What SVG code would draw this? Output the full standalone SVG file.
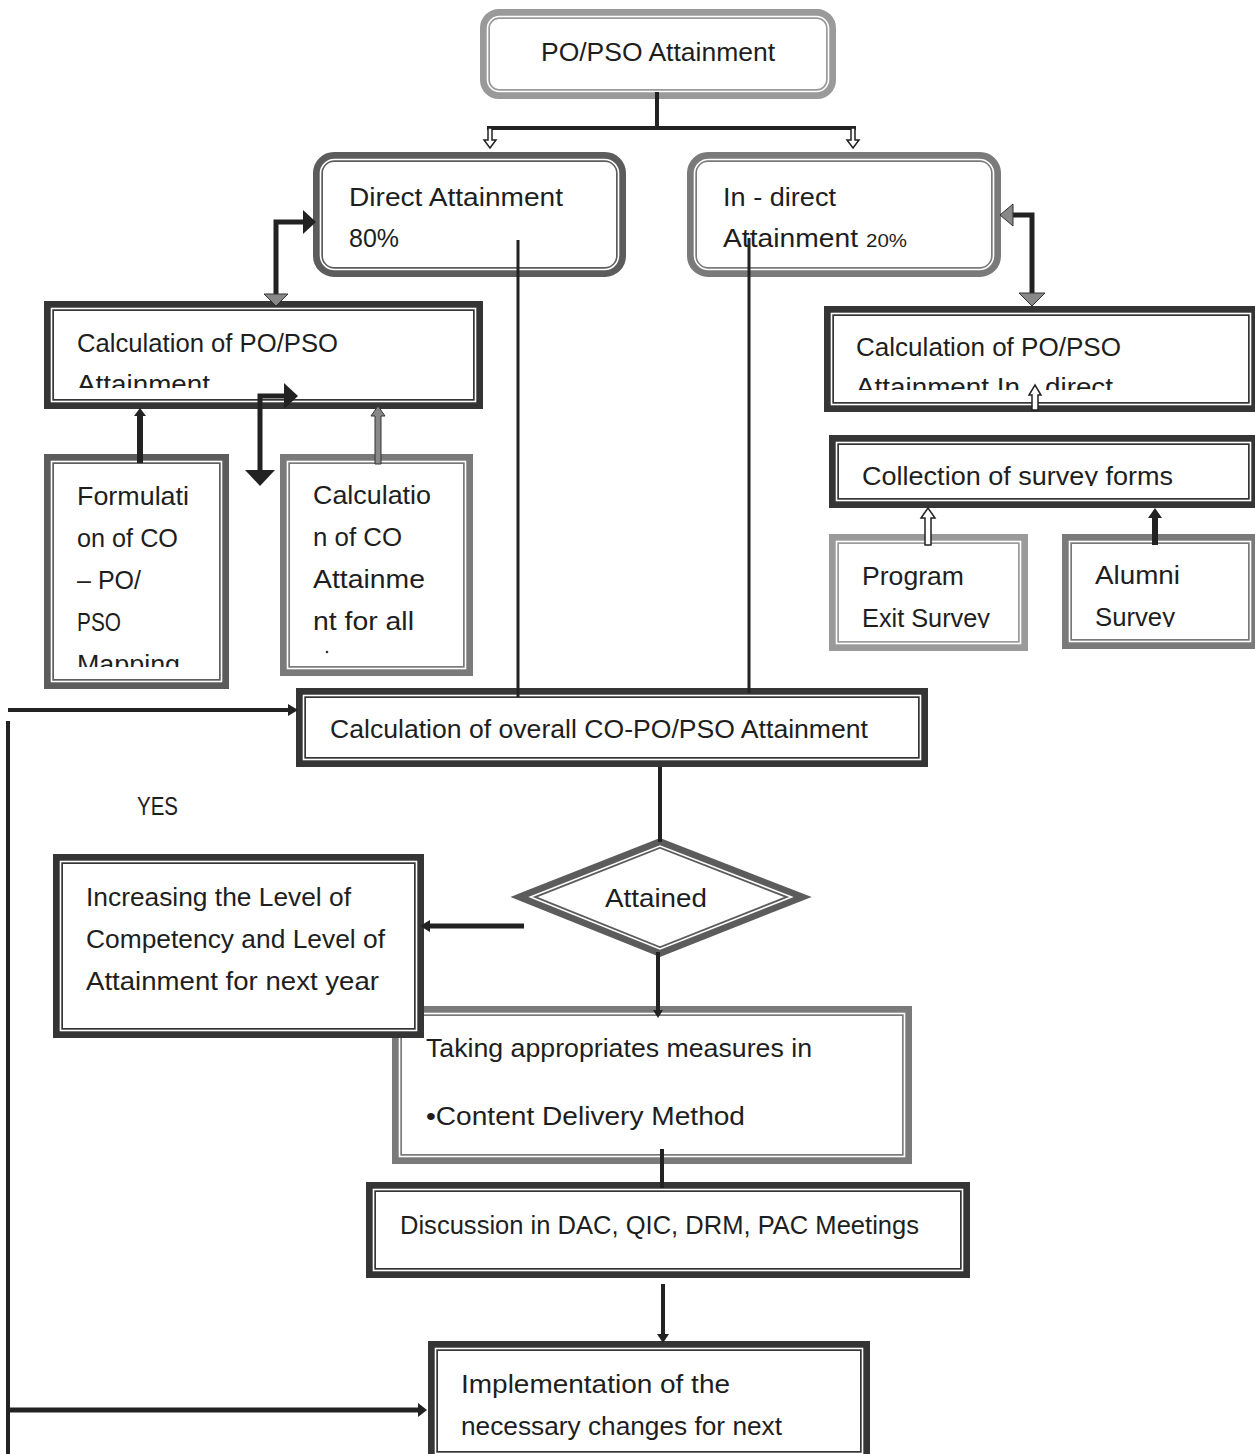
<svg xmlns="http://www.w3.org/2000/svg" width="1255" height="1454" viewBox="0 0 1255 1454">
<style>
.t{font-family:"Liberation Sans",Arial,sans-serif;font-size:25px;fill:#1e1e1e;}
.s{font-size:19px;}
.band{fill:#fff;stroke-width:10;}
.wl{fill:none;stroke:#fff;stroke-width:1.6;}
.g1{stroke:#9a9a9a;}
.g2{stroke:#7a7a7a;}
.g3{stroke:#5c5c5c;}
.g4{stroke:#353535;}
.ln{fill:none;stroke:#222;}
.hd{fill:#222;}
.hg{fill:#888;stroke:#333;stroke-width:1;}
.hh{fill:#fff;stroke:#222;stroke-width:1.5;}
</style>
<defs>
<clipPath id="cpCalcL"><rect x="44" y="301" width="439" height="87"/></clipPath>
<clipPath id="cpCalcR"><rect x="824" y="306" width="434" height="84"/></clipPath>
<clipPath id="cpColl"><rect x="829" y="435" width="429" height="51"/></clipPath>
<clipPath id="cpProg"><rect x="829" y="534" width="199" height="94"/></clipPath>
<clipPath id="cpAlum"><rect x="1062" y="534" width="196" height="93"/></clipPath>
<clipPath id="cpForm"><rect x="44" y="454" width="185" height="213"/></clipPath>
</defs>
<rect width="1255" height="1454" fill="#fff"/>

<g id="n-top">
<rect class="band g1" x="485" y="14" width="346" height="80" rx="14"/>
<rect class="wl" x="487.5" y="16.5" width="341" height="75" rx="12"/>
<text class="t" x="541" y="61" textLength="234" lengthAdjust="spacingAndGlyphs">PO/PSO Attainment</text>
</g>

<g id="n-direct">
<rect class="band g3" x="318" y="157" width="303" height="115" rx="16"/>
<rect class="wl" x="320.5" y="159.5" width="298" height="110" rx="14"/>
<text class="t" x="349" y="206" textLength="214" lengthAdjust="spacingAndGlyphs">Direct Attainment</text>
<text class="t" x="349" y="247" textLength="50" lengthAdjust="spacingAndGlyphs">80%</text>
</g>

<g id="n-indirect">
<rect class="band g2" x="692" y="157" width="304" height="115" rx="16"/>
<rect class="wl" x="694.5" y="159.5" width="299" height="110" rx="14"/>
<text class="t" x="723" y="206" textLength="113" lengthAdjust="spacingAndGlyphs">In - direct</text>
<text class="t" x="723" y="247" textLength="135" lengthAdjust="spacingAndGlyphs">Attainment</text>
<text class="t s" x="866" y="247" textLength="41" lengthAdjust="spacingAndGlyphs">20%</text>
</g>

<g id="n-calc-left">
<rect class="band g4" x="49" y="306" width="429" height="98"/>
<rect class="wl" x="51.5" y="308.5" width="424" height="93"/>
<text class="t" x="77" y="352" textLength="261" lengthAdjust="spacingAndGlyphs">Calculation of PO/PSO</text>
<text class="t" x="77" y="393" textLength="133" lengthAdjust="spacingAndGlyphs" clip-path="url(#cpCalcL)">Attainment</text>
</g>

<g id="n-calc-right">
<rect class="band g4" x="829" y="311" width="424" height="96"/>
<rect class="wl" x="831.5" y="313.5" width="419" height="91"/>
<text class="t" x="856" y="356" textLength="265" lengthAdjust="spacingAndGlyphs">Calculation of PO/PSO</text>
<g clip-path="url(#cpCalcR)">
<text class="t" x="856" y="396" textLength="164" lengthAdjust="spacingAndGlyphs">Attainment In</text>
<text class="t" x="1045" y="396" textLength="68" lengthAdjust="spacingAndGlyphs">direct</text>
</g>
</g>

<g id="n-collection">
<rect class="band g4" x="834" y="440" width="419" height="63"/>
<rect class="wl" x="836.5" y="442.5" width="414" height="58"/>
<text class="t" x="862" y="485" textLength="311" lengthAdjust="spacingAndGlyphs" clip-path="url(#cpColl)">Collection of survey forms</text>
</g>

<g id="n-program">
<rect class="band g1" x="834" y="539" width="189" height="107"/>
<rect class="wl" x="836.5" y="541.5" width="184" height="102"/>
<g clip-path="url(#cpProg)">
<text class="t" x="862" y="585" textLength="102" lengthAdjust="spacingAndGlyphs">Program</text>
<text class="t" x="862" y="627" textLength="128" lengthAdjust="spacingAndGlyphs">Exit Survey</text>
</g>
</g>

<g id="n-alumni">
<rect class="band g2" x="1067" y="539" width="186" height="105"/>
<rect class="wl" x="1069.5" y="541.5" width="181" height="100"/>
<g clip-path="url(#cpAlum)">
<text class="t" x="1095" y="584" textLength="85" lengthAdjust="spacingAndGlyphs">Alumni</text>
<text class="t" x="1095" y="626" textLength="80" lengthAdjust="spacingAndGlyphs">Survey</text>
</g>
</g>

<g id="n-formulation">
<rect class="band g3" x="49" y="459" width="175" height="225"/>
<rect class="wl" x="51.5" y="461.5" width="170" height="220"/>
<g clip-path="url(#cpForm)">
<text class="t" x="77" y="505" textLength="112" lengthAdjust="spacingAndGlyphs">Formulati</text>
<text class="t" x="77" y="547" textLength="101" lengthAdjust="spacingAndGlyphs">on of CO</text>
<text class="t" x="77" y="589" textLength="64" lengthAdjust="spacingAndGlyphs">– PO/</text>
<text class="t" x="77" y="631" textLength="44" lengthAdjust="spacingAndGlyphs">PSO</text>
<text class="t" x="77" y="673" textLength="103" lengthAdjust="spacingAndGlyphs">Mapping</text>
</g>
</g>

<g id="n-calc-co">
<rect class="band g2" x="285" y="459" width="183" height="212"/>
<rect class="wl" x="287.5" y="461.5" width="178" height="207"/>
<text class="t" x="313" y="504" textLength="118" lengthAdjust="spacingAndGlyphs">Calculatio</text>
<text class="t" x="313" y="546" textLength="89" lengthAdjust="spacingAndGlyphs">n of CO</text>
<text class="t" x="313" y="588" textLength="112" lengthAdjust="spacingAndGlyphs">Attainme</text>
<text class="t" x="313" y="630" textLength="101" lengthAdjust="spacingAndGlyphs">nt for all</text>
<circle cx="327" cy="652" r="1.3" fill="#333"/>
</g>

<g id="n-overall">
<rect class="band g4" x="301" y="693" width="622" height="69"/>
<rect class="wl" x="303.5" y="695.5" width="617" height="64"/>
<text class="t" x="330" y="738" textLength="538" lengthAdjust="spacingAndGlyphs">Calculation of overall CO-PO/PSO Attainment</text>
</g>

<g id="l-yes">
<text class="t" x="137" y="815" font-size="23" textLength="41" lengthAdjust="spacingAndGlyphs">YES</text>
</g>

<g id="n-attained">
<polygon class="band g3" points="524,897 660,843.4 798,897 660,951.6"/>
<polygon class="wl" points="530.5,897 660,846 791.5,897 660,949"/>
<text class="t" x="605" y="907" textLength="102" lengthAdjust="spacingAndGlyphs">Attained</text>
</g>

<g id="n-taking">
<rect class="band g2" x="397" y="1011" width="510" height="148"/>
<rect class="wl" x="399.5" y="1013.5" width="505" height="143"/>
<text class="t" x="426" y="1057" textLength="386" lengthAdjust="spacingAndGlyphs">Taking appropriates measures in</text>
<text class="t" x="426" y="1125" textLength="319" lengthAdjust="spacingAndGlyphs">•Content Delivery Method</text>
</g>

<g id="n-increasing">
<rect class="band g4" x="58" y="859" width="361" height="174"/>
<rect class="wl" x="60.5" y="861.5" width="356" height="169"/>
<text class="t" x="86" y="906" textLength="265" lengthAdjust="spacingAndGlyphs">Increasing the Level of</text>
<text class="t" x="86" y="948" textLength="299" lengthAdjust="spacingAndGlyphs">Competency and Level of</text>
<text class="t" x="86" y="990" textLength="293" lengthAdjust="spacingAndGlyphs">Attainment for next year</text>
</g>

<g id="n-discussion">
<rect class="band g4" x="371" y="1187" width="594" height="86"/>
<rect class="wl" x="373.5" y="1189.5" width="589" height="81"/>
<text class="t" x="400" y="1234" textLength="519" lengthAdjust="spacingAndGlyphs">Discussion in DAC, QIC, DRM, PAC Meetings</text>
</g>

<g id="n-implementation">
<rect class="band g4" x="433" y="1346" width="432" height="110"/>
<rect class="wl" x="435.5" y="1348.5" width="427" height="105"/>
<text class="t" x="461" y="1393" textLength="269" lengthAdjust="spacingAndGlyphs">Implementation of the</text>
<text class="t" x="461" y="1435" textLength="321" lengthAdjust="spacingAndGlyphs">necessary changes for next</text>
</g>

<g id="connectors">
<path class="ln" stroke-width="4" d="M657 92 V128 M487 128 H856"/>
<polygon class="hh" points="488,128 492,128 492,140 496,140 490,148 484,140 488,140"/>
<polygon class="hh" points="851,128 855,128 855,140 859,140 853,148 847,140 851,140"/>

<path class="ln" stroke-width="5" d="M276 298 V222 H305"/>
<polygon class="hd" points="303,210 303,234 316,222"/>
<polygon class="hg" points="264,294 288,294 276,306"/>

<path class="ln" stroke-width="5" d="M1012 215 H1032 V294"/>
<polygon class="hg" points="1000,215 1013,204 1013,226"/>
<polygon class="hg" points="1019,293 1045,293 1032,306"/>

<path class="ln" stroke-width="6" d="M140 463 V414"/>
<polygon class="hd" points="134,416 146,416 140,408"/>

<path class="ln" stroke-width="5" d="M260 472 V396 H286"/>
<polygon class="hd" points="245,470 275,470 260,486"/>
<polygon class="hd" points="284,383 284,409 298,396"/>

<polygon class="hg" points="375,464 381,464 381,416 385,416 378,406 371,416 375,416"/>

<polygon class="hh" points="1032,410 1038,410 1038,395 1041,395 1035,385 1029,395 1032,395"/>
<polygon class="hh" points="925,545 931,545 931,518 935,518 928,508 921,518 925,518"/>
<polygon class="hd" points="1152,545 1158,545 1158,518 1162,518 1155,508 1148,518 1152,518"/>

<path class="ln" stroke-width="3" d="M518 240 V697"/>
<path class="ln" stroke-width="3" d="M749 238 V693"/>

<path class="ln" stroke-width="4" d="M660 767 V842"/>
<path class="ln" stroke-width="5" d="M524 926 H428"/>
<polygon class="hd" points="420,926 430,920 430,932"/>
<path class="ln" stroke-width="4" d="M658 952 V1012"/>
<polygon class="hd" points="653,1010 663,1010 658,1018"/>
<path class="ln" stroke-width="4" d="M662 1149 V1188"/>
<path class="ln" stroke-width="4" d="M663 1284 V1336"/>
<polygon class="hd" points="657,1334 669,1334 663,1343"/>

<path class="ln" stroke-width="4" d="M8 721 V1454"/>
<path class="ln" stroke-width="4" d="M8 710 H290"/>
<polygon class="hd" points="288,704 288,716 298,710"/>
<path class="ln" stroke-width="5" d="M8 1410 H420"/>
<polygon class="hd" points="418,1403 418,1417 427,1410"/>
</g>
</svg>
